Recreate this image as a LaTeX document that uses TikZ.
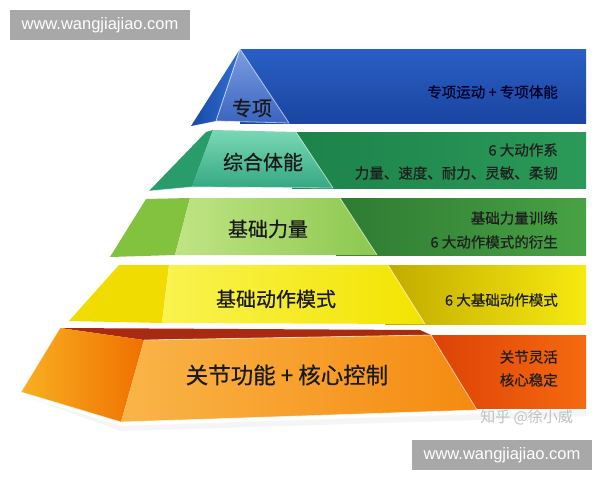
\documentclass[tikz,border=0pt]{standalone}
\usepackage{fontspec}
\setmainfont{Noto Sans CJK SC}
\newfontfamily\cjkmed{Noto Sans CJK SC}[FakeBold=0.6]
\newfontfamily\wmfont{Liberation Sans}
\definecolor{bluebandA}{HTML}{2A5FC6}
\definecolor{bluebandB}{HTML}{1A45A0}
\definecolor{bluefrontA}{HTML}{7C9DE0}
\definecolor{bluefrontB}{HTML}{3A64C0}
\definecolor{bluesideA}{HTML}{3070D0}
\definecolor{bluesideB}{HTML}{1A48A8}
\definecolor{gbandA}{HTML}{1C824A}
\definecolor{gbandB}{HTML}{2B9A58}
\definecolor{gfrontA}{HTML}{7AD8B6}
\definecolor{gfrontB}{HTML}{35A882}
\definecolor{gside}{HTML}{2A9C6C}
\definecolor{lbandA}{HTML}{2E7A32}
\definecolor{lbandB}{HTML}{48A244}
\definecolor{lfrontA}{HTML}{C0E484}
\definecolor{lfrontB}{HTML}{8CC850}
\definecolor{lside}{HTML}{82C23E}
\definecolor{ybandA}{HTML}{C2AA00}
\definecolor{ybandB}{HTML}{F6EA10}
\definecolor{yfrontA}{HTML}{F9F350}
\definecolor{yfrontB}{HTML}{F2E400}
\definecolor{yside}{HTML}{F0DC00}
\definecolor{obandA}{HTML}{DC4006}
\definecolor{obandB}{HTML}{F56A10}
\definecolor{ofrontA}{HTML}{F9B548}
\definecolor{ofrontB}{HTML}{F58A10}
\definecolor{osideA}{HTML}{F8B020}
\definecolor{osideB}{HTML}{F07000}
\definecolor{otop}{HTML}{A82A10}
\definecolor{wmgray}{HTML}{A8A8A8}
\begin{document}
\begin{tikzpicture}[x=1pt,y=-1pt,
  edge/.style={draw=white,draw opacity=0.6,line width=0.8pt},
  biglabel/.style={font=\cjkmed\fontsize{20}{24}\selectfont,text=black!90},
  bandlabel/.style={font=\cjkmed\fontsize{14.5}{17}\selectfont,text=black!88,anchor=east,inner sep=0pt},
  wmbox/.style={fill=wmgray,text=white,font=\wmfont\fontsize{16.5}{20}\selectfont,minimum width=180pt,minimum height=30pt,inner sep=0pt}
]
\useasboundingbox (0,0) rectangle (600,480);
\fill[white] (0,0) rectangle (600,480);

% faint shadow under base
\fill[black!4] (30,398) -- (121,426) -- (480,414) -- (586,410) -- (586,416) -- (480,420) -- (121,431) -- cycle;

% ---------- layer 5 (orange) ----------
\shade[left color=obandA,right color=obandB] (425,335) rectangle (586,408);
\fill[otop] (60,328) -- (420,330) -- (431,335) -- (144,340) -- cycle;
\shade[left color=osideA,right color=osideB] (60,328) -- (144,340) -- (121,422) -- (21,392) -- cycle;
\shade[left color=ofrontA,right color=ofrontB] (144,340) -- (431,335) -- (477,410) -- (121,422) -- cycle;
\draw[edge] (144,340) -- (431,335) -- (477,410);
\draw[edge] (60,328) -- (21,392) -- (121,422) -- (477,410);

% ---------- layer 4 (yellow) ----------
\shade[left color=ybandA,right color=ybandB] (385,265) rectangle (586,324);
\fill[yside] (119,265) -- (169,265) -- (162,323) -- (69,321) -- cycle;
\shade[left color=yfrontA,right color=yfrontB] (169,265) -- (388,265) -- (425,324) -- (162,323) -- cycle;
\draw[edge] (388,265) -- (425,324);

% ---------- layer 3 (lime) ----------
\shade[left color=lbandA,right color=lbandB] (336,198) rectangle (586,255);
\fill[lside] (146,199) -- (190,198) -- (175,255) -- (110,257) -- cycle;
\shade[left color=lfrontA,right color=lfrontB] (190,198) -- (340,198) -- (377,255) -- (175,255) -- cycle;
\draw[edge] (340,198) -- (377,255);

% ---------- layer 2 (teal green) ----------
\shade[left color=gbandA,right color=gbandB] (292,132) rectangle (586,188);
\fill[gside] (206,132) -- (213,130) -- (192,187) -- (149,191) -- cycle;
\shade[top color=gfrontA,bottom color=gfrontB] (213,130) -- (296,132) -- (333,188) -- (192,187) -- cycle;
\draw[edge] (296,132) -- (333,188);
\draw[edge] (149,191) -- (192,187) -- (333,188);

% ---------- layer 1 (blue) ----------
\shade[top color=bluebandA,bottom color=bluebandB] (240,49) rectangle (586,123);
\shade[left color=bluesideB,right color=bluesideA] (240,49) -- (216,121) -- (191,126) -- cycle;
\shade[top color=bluefrontA,bottom color=bluefrontB] (240,49) -- (289,123) -- (216,121) -- cycle;
\draw[edge] (240,49) -- (289,123) -- (216,121) -- cycle;

% ---------- labels ----------
\node[biglabel] (l1) at (252,108) {专项};
\node[biglabel] (l2) at (263,162) {综合体能};
\node[biglabel] (l3) at (268,229) {基础力量};
\node[biglabel] (l4) at (276,299) {基础动作模式};
\node[biglabel,font=\cjkmed\fontsize{22.5}{26}\selectfont] (l5) at (287,375) {关节功能 + 核心控制};

\node[bandlabel,text=black!85!blue] (b1) at (558,92) {专项运动 + 专项体能};
\node[bandlabel] (b2a) at (558,150) {6 大动作系};
\node[bandlabel] (b2b) at (558,173) {力量、速度、耐力、灵敏、柔韧};
\node[bandlabel] (b3a) at (558,218) {基础力量训练};
\node[bandlabel] (b3b) at (558,242) {6 大动作模式的衍生};
\node[bandlabel] (b4) at (558,300) {6 大基础动作模式};
\node[bandlabel] (b5a) at (558,357) {关节灵活};
\node[bandlabel] (b5b) at (558,380) {核心稳定};

\node[font=\fontsize{15}{18}\selectfont,text=black!25,anchor=east,inner sep=0pt] (zh) at (573,417) {知乎 @徐小威};

% ---------- watermarks ----------
\node[wmbox] (wm1) at (100,25) {www.wangjiajiao.com};
\node[wmbox] (wm2) at (502,455) {www.wangjiajiao.com};
\end{tikzpicture}
\end{document}
